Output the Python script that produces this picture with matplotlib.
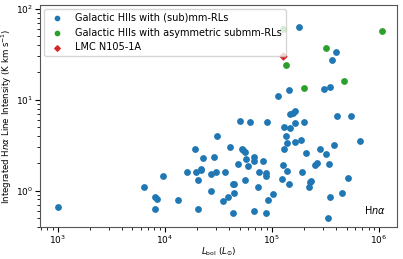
import matplotlib
matplotlib.use("Agg")
import matplotlib.pyplot as plt

# ── Data ─────────────────────────────────────────────────────────────────────
# Galactic HIIs with (sub)mm-RLs
lbol_blue = [1.01e3, 6.4e3, 8.1e3, 8.5e3, 8.05e3, 9.6e3, 1.34e4, 1.6e4, 1.93e4, 1.97e4,
             2.06e4, 2.06e4, 2.2e4, 2.2e4, 2.3e4, 2.72e4, 2.72e4, 2.9e4, 2.99e4, 3.05e4,
             3.49e4, 3.67e4, 3.92e4, 4.09e4, 4.3e4, 4.43e4, 4.4e4, 4.3e4, 4.82e4, 5.03e4,
             5.3e4, 5.4e4, 5.57e4, 5.69e4, 5.57e4, 5.94e4, 6.2e4, 6.8e4, 6.8e4, 6.8e4,
             7.47e4, 7.6e4, 8.2e4, 8.8e4, 8.9e4, 9.1e4, 9.2e4, 8.9e4, 1.03e5, 1.24e5,
             1.27e5, 1.30e5, 1.30e5, 1.35e5, 1.39e5, 1.39e5, 1.45e5, 1.49e5, 1.49e5, 1.56e5,
             1.64e5, 1.63e5, 1.63e5, 1.92e5, 1.88e5, 2.01e5, 2.07e5, 2.27e5, 2.32e5, 2.23e5,
             2.54e5, 2.65e5, 2.83e5, 3.2e5, 3.41e5, 3.49e5, 3.34e5, 3.83e5, 4.08e5, 4.49e5,
             5.17e5, 5.51e5, 6.65e5, 1.79e5, 3.99e5, 3.66e5, 1.46e5, 3.05e5, 3.49e5, 1.13e5]
int_blue = [0.65, 1.08, 0.845, 0.81, 0.63, 1.44, 0.79, 1.6, 2.9, 1.6,
            1.31, 0.63, 1.68, 1.73, 2.31, 1.53, 1.0, 2.33, 1.6, 4.0,
            0.77, 1.58, 0.845, 3.03, 1.19, 1.19, 0.95, 0.57, 1.97, 5.86,
            2.86, 2.79, 2.69, 2.25, 1.30, 1.84, 5.62, 2.37, 2.14, 0.59,
            1.08, 1.6, 2.13, 1.56, 1.45, 5.62, 0.79, 0.56, 0.92, 1.35,
            1.91, 4.96, 2.88, 4.0, 3.30, 1.66, 1.19, 4.83, 6.89, 7.24,
            7.43, 5.53, 3.42, 1.61, 3.56, 5.62, 2.58, 1.25, 1.26, 1.08,
            1.92, 2.0, 2.9, 2.54, 1.94, 0.845, 0.50, 3.16, 6.6, 0.935,
            1.36, 6.55, 3.51, 64.0, 33.8, 27.1, 12.8, 13.1, 13.8, 11.0]

# Galactic HIIs with asymmetric submm-RLs
lbol_green = [1.27e5, 1.07e6, 3.18e5, 1.35e5, 4.71e5, 2.01e5]
int_green = [61.0, 56.6, 37.4, 23.9, 16.3, 13.5]

# LMC N105-1A
lbol_lmc = [1.28e5]
int_lmc = [30.6]

plt.rcParams["font.size"] = 6.5

fig = plt.figure(figsize=(4.03, 2.59), dpi=100)
ax = fig.add_axes([0.099, 0.125, 0.886, 0.856])

ax.scatter(lbol_blue, int_blue, s=15, color="tab:blue",
           label="Galactic HIIs with (sub)mm-RLs")
ax.scatter(lbol_green, int_green, s=15, color="tab:green",
           label="Galactic HIIs with asymmetric submm-RLs")
ax.scatter(lbol_lmc, int_lmc, s=12, marker="D", color="tab:red",
           label="LMC N105-1A")

ax.set_xscale("log")
ax.set_yscale("log")
ax.set_xlim(684, 1.47e6)
ax.set_ylim(0.40, 111)
ax.tick_params(which="major", labelsize=6.5, pad=1.5, length=3.5)
ax.tick_params(which="minor", length=2)

ax.set_xlabel(r"$L_{\rm bol}$ ($L_{\odot}$)", fontsize=6.3, labelpad=0)
ax.set_ylabel(r"Integrated H$n\alpha$ Line Intensity (K km s$^{-1}$)",
              fontsize=6.2, labelpad=1)
ax.text(0.97, 0.05, r"H$n\alpha$", transform=ax.transAxes, ha="right", va="bottom",
        fontsize=7)

ax.legend(loc="upper left", fontsize=7, handletextpad=0.8, borderaxespad=0.4,
          markerscale=0.8)

for sp in ax.spines.values():
    sp.set_color("#555555")

fig.savefig("out.png", dpi=100)
